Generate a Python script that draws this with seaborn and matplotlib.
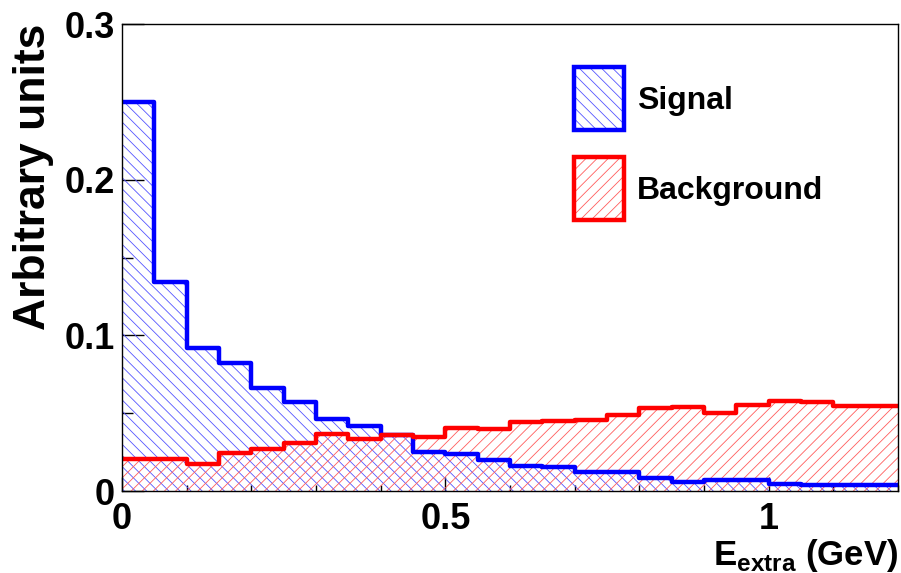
import matplotlib
matplotlib.use("Agg")
import matplotlib.pyplot as plt
import numpy as np
import pandas as pd
import seaborn as sns
from matplotlib.legend_handler import HandlerTuple
from matplotlib.patches import Patch
from matplotlib.ticker import FixedFormatter, FixedLocator, MultipleLocator

# bin lower edges in GeV (bin width 0.05)
e_lo = [0.00, 0.05, 0.10, 0.15, 0.20, 0.25, 0.30, 0.35, 0.40, 0.45, 0.50, 0.55,
        0.60, 0.65, 0.70, 0.75, 0.80, 0.85, 0.90, 0.95, 1.00, 1.05, 1.10, 1.15]
e_hi = 1.20

signal = [0.250, 0.134, 0.092, 0.082, 0.066, 0.057, 0.046, 0.042, 0.036, 0.025,
          0.024, 0.020, 0.016, 0.0156, 0.0121, 0.0121, 0.0086, 0.0055, 0.0069,
          0.0069, 0.0047, 0.0036, 0.0036, 0.0037]
background = [0.0206, 0.0206, 0.0172, 0.0242, 0.0270, 0.0307, 0.0364, 0.0334,
              0.0360, 0.0345, 0.0403, 0.0399, 0.0441, 0.0452, 0.0457, 0.0489,
              0.0535, 0.0541, 0.0502, 0.0553, 0.0579, 0.0570, 0.0548, 0.0544]

x_ticks = [0, 0.5, 1]
x_ticklabels = ["0", "0.5", "1"]
y_ticks = [0, 0.1, 0.2, 0.3]
y_ticklabels = ["0", "0.1", "0.2", "0.3"]

SIG_LINE, SIG_HATCH = "#0000ff", "#5555ff"
BKG_LINE, BKG_HATCH = "#ff0000", "#ff5c5c"
SIG_PAT, BKG_PAT = "\\\\\\", "///"
LW = 3.2

sns.set_style("ticks")
plt.rcParams["font.family"] = ["Liberation Sans", "DejaVu Sans"]
plt.rcParams["font.weight"] = "bold"
plt.rcParams["text.color"] = "black"
plt.rcParams["axes.labelcolor"] = "black"
plt.rcParams["xtick.color"] = "black"
plt.rcParams["ytick.color"] = "black"
plt.rcParams["mathtext.fontset"] = "custom"
plt.rcParams["mathtext.bf"] = "Liberation Sans:bold"
plt.rcParams["mathtext.rm"] = "Liberation Sans:bold"
plt.rcParams["hatch.linewidth"] = 0.6

df = pd.DataFrame({"e_lo": e_lo, "signal": signal, "background": background})
edges = e_lo + [e_hi]

fig, ax = plt.subplots(figsize=(9.01, 5.73), dpi=100)
fig.subplots_adjust(left=0.1354, right=0.9967, bottom=0.1431, top=0.958)

for col, line_c, hatch_c, hatch in [("signal", SIG_LINE, SIG_HATCH, SIG_PAT),
                                     ("background", BKG_LINE, BKG_HATCH, BKG_PAT)]:
    # hatched fill
    sns.histplot(data=df, x="e_lo", weights=col, bins=edges, element="step",
                 fill=True, color=hatch_c, facecolor="none", edgecolor=hatch_c,
                 hatch=hatch, linewidth=0, ax=ax)
    # thick outline
    sns.histplot(data=df, x="e_lo", weights=col, bins=edges, element="step",
                 fill=False, color=line_c, linewidth=LW, ax=ax)

ax.set_xlim(0, e_hi)
ax.set_ylim(0, 0.3)

ax.xaxis.set_major_locator(FixedLocator(x_ticks))
ax.xaxis.set_major_formatter(FixedFormatter(x_ticklabels))
ax.xaxis.set_minor_locator(MultipleLocator(0.1))
ax.yaxis.set_major_locator(FixedLocator(y_ticks))
ax.yaxis.set_major_formatter(FixedFormatter(y_ticklabels))
ax.yaxis.set_minor_locator(MultipleLocator(0.05))

ax.tick_params(which="both", direction="in", top=False, right=False,
               color="black", width=1)
ax.tick_params(axis="x", which="major", length=10, pad=8, labelsize=26)
ax.tick_params(axis="x", which="minor", length=4.5)
ax.tick_params(axis="y", which="major", length=16, pad=5, labelsize=26)
ax.tick_params(axis="y", which="minor", length=8)
for s in ax.spines.values():
    s.set_visible(True)
    s.set_color("black")
    s.set_linewidth(1)

ax.set_xlabel(r"E$_{\mathbf{extra}}$ (GeV)", loc="right", fontsize=25,
              fontweight="bold", labelpad=0)
ax.set_ylabel("Arbitrary units", loc="top", fontsize=32, fontweight="bold",
              labelpad=8)

h_sig = (Patch(facecolor="none", edgecolor=SIG_HATCH, hatch=SIG_PAT, linewidth=0),
         Patch(facecolor="none", edgecolor=SIG_LINE, linewidth=LW))
h_bkg = (Patch(facecolor="none", edgecolor=BKG_HATCH, hatch=BKG_PAT, linewidth=0),
         Patch(facecolor="none", edgecolor=BKG_LINE, linewidth=LW))
ax.legend([h_sig, h_bkg], ["Signal", "Background"],
          handler_map={tuple: HandlerTuple(ndivide=1, pad=0)},
          loc="upper left", bbox_to_anchor=(0.583, 0.907), frameon=False,
          prop={"size": 23, "weight": "bold"}, handlelength=1.55,
          handleheight=2.65, handletextpad=0.4, labelspacing=0.85,
          borderpad=0, borderaxespad=0)

fig.savefig("out.png", dpi=100)
